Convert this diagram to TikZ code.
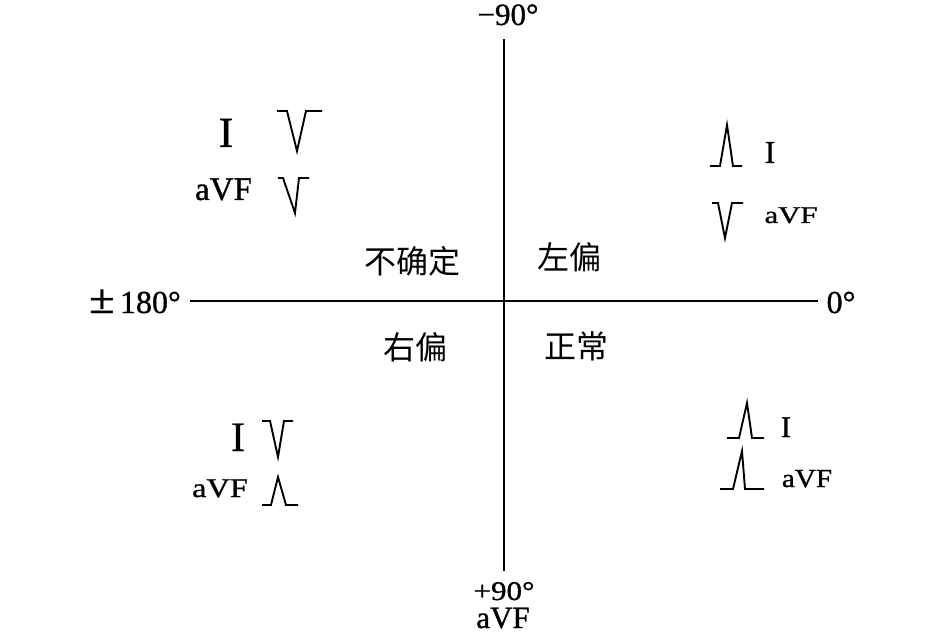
\documentclass[tikz,border=0pt]{standalone}
\usepackage{fontspec}
\setmainfont[FakeBold=1]{Liberation Serif}
\newfontfamily\cjk{Noto Sans CJK SC}
\newcommand{\fsz}[1]{\fontsize{#1bp}{#1bp}\selectfont}
\begin{document}
\begin{tikzpicture}[x=1bp,y=-1bp,
  lbl/.style={inner sep=0pt, outer sep=0pt, anchor=base},
  cjklbl/.style={inner sep=0pt, outer sep=0pt, anchor=center, font=\cjk\fsz{32}},
  axis/.style={line width=2.4bp},
  wave/.style={line width=1.9bp, line join=miter}]
\useasboundingbox (0,0) rectangle (945,633);
% axes
\coordinate (L) at (190,301);
\coordinate (R) at (818,301);
\coordinate (T) at (504,39);
\coordinate (B) at (504,571);
\draw[axis] (L) -- (R);
\draw[axis] (T) -- (B);
% axis labels
\node[lbl] (m90) at (508,25) {\fsz{31}−90°};
\node[lbl] (p90) at (504,600) {\fsz{27}\scalebox{1.15}[1]{+90°}};
\node[lbl] (avfb) at (503,628) {\fsz{31}aVF};
\node[lbl] (p180) at (135,313) {\fsz{32}\scalebox{1.45}[1.3]{±}\,180°};
\node[lbl] (zero) at (841,313) {\fsz{32}0°};
% quadrant labels
\node[cjklbl] (q1) at (412,261) {不确定};
\node[cjklbl] (q2) at (569,257) {左偏};
\node[cjklbl] (q3) at (415,347) {右偏};
\node[cjklbl] (q4) at (576,346) {正常};
% top-left
\node[lbl] (tlI) at (226,147) {\fsz{43}I};
\node[lbl] (tlA) at (223.5,200) {\fsz{33}aVF};
\draw[wave] (277,111) -- (287,111) -- (297,151) -- (306,111) -- (322,111);
\draw[wave] (278,178) -- (283,178) -- (295,213) -- (299,178) -- (309,178);
% top-right
\node[lbl] (trI) at (770,163) {\fsz{32}I};
\node[lbl] (trA) at (791,223) {\fsz{24}\scalebox{1.28}[1]{aVF}};
\draw[wave] (710,166) -- (720,166) -- (727,125) -- (733,166) -- (742,166);
\draw[wave] (712,203) -- (718,203) -- (725,238) -- (732,203) -- (743,203);
% bottom-left
\node[lbl] (blI) at (238,451) {\fsz{42}I};
\node[lbl] (blA) at (220,497) {\fsz{27}\scalebox{1.2}[1]{aVF}};
\draw[wave] (262,421) -- (270,421) -- (278,457) -- (284,421) -- (293,421);
\draw[wave] (262,505) -- (271,505) -- (278,477) -- (286,505) -- (298,505);
% bottom-right
\node[lbl] (brI) at (786,437) {\fsz{30}I};
\node[lbl] (brA) at (807,487) {\fsz{26}\scalebox{1.12}[1]{aVF}};
\draw[wave] (727,438) -- (739,438) -- (747,403) -- (752,438) -- (764,438);
\draw[wave] (720,489) -- (733,489) -- (742,451) -- (745,489) -- (764,489);
\end{tikzpicture}
\end{document}
